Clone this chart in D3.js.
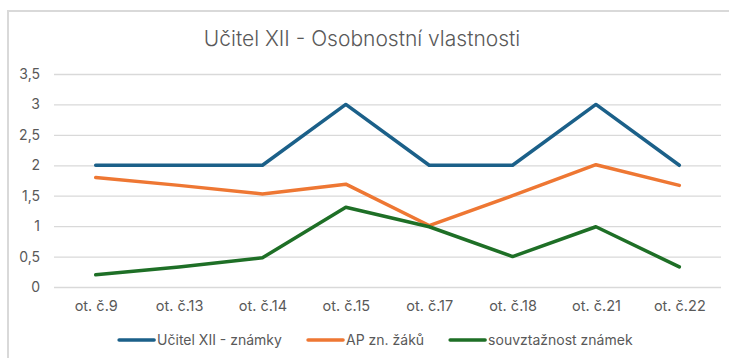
<!DOCTYPE html>
<html>
<head>
<meta charset="utf-8">
<script src="https://cdn.jsdelivr.net/npm/d3@7"></script>
<style>
  html, body { margin: 0; padding: 0; background: #fff; }
  svg { display: block; font-family: Inter, "Noto Sans", sans-serif; }
</style>
</head>
<body>
<svg id="chart" width="729" height="358"></svg>
<script>
// Categories (assessment items) and the three series
const categories = ["ot. č.9", "ot. č.13", "ot. č.14", "ot. č.15", "ot. č.17", "ot. č.18", "ot. č.21", "ot. č.22"];
const teacherGrades = [2, 2, 2, 3, 2, 2, 3, 2];
const studentAvg = [1.8, 1.67, 1.53, 1.69, 1.01, 1.5, 2.01, 1.67];
const gradeAgreement = [0.2, 0.33, 0.48, 1.31, 0.99, 0.5, 0.99, 0.33];
const yTicks = [0, 0.5, 1, 1.5, 2, 2.5, 3, 3.5];
const seriesNames = ["Učitel XII - známky", "AP zn. žáků", "souvztažnost známek"];
const seriesColors = ["#1b6089", "#ee7733", "#1e6f26"];
const title = "Učitel XII - Osobnostní vlastnosti";

const series = [teacherGrades, studentAvg, gradeAgreement].map((values, i) => ({
  name: seriesNames[i], color: seriesColors[i], values
}));

const svg = d3.select("#chart");
const W = 729, H = 358;
const plot = { left: 54, right: 721, top: 74, bottom: 287 };
const textColor = "#595959";
const fontStack = "Inter, 'Noto Sans', sans-serif";

// Outer frame of the chart area
svg.append("path")
  .attr("d", `M8,${H} V11 H${W}`)
  .attr("fill", "none")
  .attr("stroke", "#d9d9d9")
  .attr("stroke-width", 2);

// Title
svg.append("text")
  .attr("x", 362).attr("y", 46)
  .attr("text-anchor", "middle")
  .attr("font-size", 21)
  .attr("font-weight", 300)
  .attr("fill", textColor)
  .text(title);

const x = d3.scalePoint().domain(categories).range([plot.left, plot.right]).padding(0.5);
const y = d3.scaleLinear().domain([0, 3.5]).range([plot.bottom, plot.top]);

// Horizontal gridlines and y labels
const yAxis = d3.axisLeft(y)
  .tickValues(yTicks)
  .tickSize(-(plot.right - plot.left))
  .tickPadding(14)
  .tickFormat(d => String(d).replace(".", ","));
const gy = svg.append("g").attr("transform", `translate(${plot.left},0)`).call(yAxis);
gy.select(".domain").remove();
gy.selectAll(".tick line").attr("stroke", "#d9d9d9").attr("stroke-width", 1.3);
gy.selectAll(".tick text")
  .attr("fill", textColor).attr("font-size", 14)
  .attr("font-family", fontStack);

// Category labels
const xAxis = d3.axisBottom(x).tickSize(0).tickPadding(14);
const gx = svg.append("g").attr("transform", `translate(0,${plot.bottom})`).call(xAxis);
gx.select(".domain").remove();
gx.selectAll(".tick text")
  .attr("fill", textColor).attr("font-size", 14.5)
  .attr("font-family", fontStack);

// Lines
const line = d3.line().x((d, i) => x(categories[i])).y(d => y(d));
svg.append("g").selectAll("path").data(series).join("path")
  .attr("d", d => line(d.values))
  .attr("fill", "none")
  .attr("stroke", d => d.color)
  .attr("stroke-width", 3.5)
  .attr("stroke-linejoin", "round")
  .attr("stroke-linecap", "round");

// Legend: swatch + label per series, laid out in a centred row
const swatchW = 35, swatchGap = 3, itemGap = 26, legendY = 340, legendCenter = 376;
const lg = svg.append("g");
const items = lg.selectAll("g").data(series).join("g");
items.append("line")
  .attr("x1", 0).attr("x2", swatchW).attr("y1", 0).attr("y2", 0)
  .attr("stroke", d => d.color).attr("stroke-width", 3.5).attr("stroke-linecap", "round");
items.append("text")
  .attr("x", swatchW + swatchGap).attr("y", 0).attr("dy", "0.35em")
  .attr("font-size", 14).attr("fill", textColor)
  .text(d => d.name);
const widths = [];
items.each(function () { widths.push(this.getBBox().width); });
const total = d3.sum(widths) + itemGap * (widths.length - 1);
let cursor = legendCenter - total / 2;
items.attr("transform", (d, i) => {
  const t = `translate(${cursor},${legendY})`;
  cursor += widths[i] + itemGap;
  return t;
});
</script>
</body>
</html>
